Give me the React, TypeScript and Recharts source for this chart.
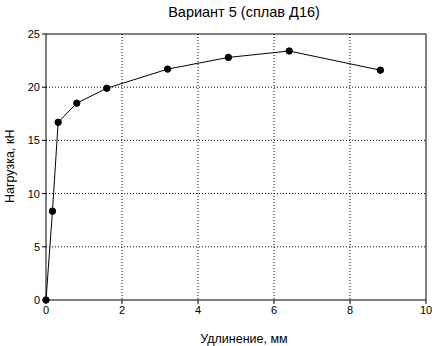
import React from 'react';
import {
  LineChart,
  Line,
  XAxis,
  YAxis,
  CartesianGrid,
  ReferenceLine,
} from 'recharts';

const elongation = [0, 0.17, 0.32, 0.81, 1.6, 3.2, 4.8, 6.4, 8.8];
const load = [0, 8.35, 16.7, 18.5, 19.9, 21.7, 22.8, 23.4, 21.6];
const xTicks = [0, 2, 4, 6, 8, 10];
const yTicks = [0, 5, 10, 15, 20, 25];

const data = elongation.map((x, i) => ({ x, y: load[i] }));

const FONT = 'Liberation Sans, Arial, sans-serif';

export default function App() {
  return (
    <div style={{ position: 'absolute', left: 0, top: 0, width: 447, height: 346, background: '#fff', fontFamily: FONT }}>
      <LineChart
        width={447}
        height={346}
        data={data}
        margin={{ top: 34, right: 21, left: 0, bottom: 0 }}
      >
        <CartesianGrid
          stroke="#000"
          strokeDasharray="1 2"
          horizontalValues={[5, 10, 15, 20]}
          verticalValues={[2, 4, 6, 8]}
        />
        <XAxis
          type="number"
          dataKey="x"
          domain={[0, 10]}
          ticks={xTicks}
          height={46}
          stroke="#000"
          tickSize={4}
          tick={{ fill: '#000', fontSize: 11, fontFamily: FONT }}
          label={{ value: 'Удлинение, мм', position: 'insideBottom', offset: 3, fill: '#000', fontSize: 12.5, fontFamily: FONT, dx: 8 }}
        />
        <YAxis
          type="number"
          domain={[0, 25]}
          ticks={yTicks}
          width={46}
          stroke="#000"
          tickSize={4}
          tick={{ fill: '#000', fontSize: 11, fontFamily: FONT }}
          label={{ value: 'Нагрузка, кН', angle: -90, position: 'insideLeft', offset: 10, fill: '#000', fontSize: 12.5, fontFamily: FONT, dy: 36 }}
        />
        <ReferenceLine y={25} stroke="#000" strokeWidth={1} />
        <ReferenceLine x={10} stroke="#000" strokeWidth={1} />
        <Line
          type="linear"
          dataKey="y"
          stroke="#000"
          strokeWidth={1}
          dot={{ r: 3.2, fill: '#000', stroke: '#000', strokeWidth: 1 }}
          isAnimationActive={false}
        />
        <text x={244} y={17} textAnchor="middle" fill="#000" fontSize={14.5} fontFamily={FONT}>
          Вариант 5 (сплав Д16)
        </text>
      </LineChart>
    </div>
  );
}
